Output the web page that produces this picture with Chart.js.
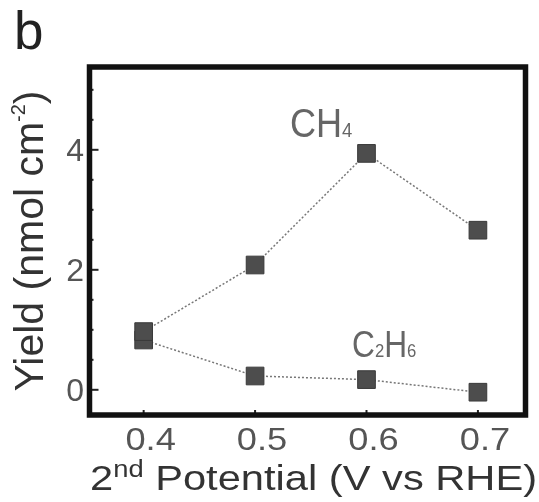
<!DOCTYPE html>
<html>
<head>
<meta charset="utf-8">
<script src="https://cdn.jsdelivr.net/npm/chart.js@4/dist/chart.umd.min.js"></script>
<style>
  html, body { margin: 0; padding: 0; background: #fff; }
  #wrap { width: 539px; height: 502px; }
</style>
</head>
<body>
<div id="wrap"><canvas id="yieldChart" width="539" height="502"></canvas></div>
<script>
// dados
const potentials = [0.4, 0.5, 0.6, 0.7];
const ch4Yield = [0.97, 2.08, 3.94, 2.66];
const c2h6Yield = [0.83, 0.23, 0.17, -0.04];
const xTickValues = [0.4, 0.5, 0.6, 0.7];
const xTickLabels = ["0.4", "0.5", "0.6", "0.7"];
const yTickValues = [0, 2, 4];
const yTickLabels = ["0", "2", "4"];

const FONT = '"Liberation Sans", Arial, sans-serif';

function toPoints(ys) {
  return potentials.map((p, i) => ({ x: p, y: ys[i] }));
}

// texto em partes (sub/sobrescritos), com escala horizontal
function drawRuns(ctx, parts, x, y, sx, align, color) {
  ctx.save();
  ctx.translate(x, y);
  ctx.scale(sx, 1);
  ctx.fillStyle = color;
  ctx.textBaseline = "alphabetic";
  ctx.textAlign = "left";
  let total = 0;
  parts.forEach(p => {
    ctx.font = p[1] + "px " + FONT;
    total += ctx.measureText(p[0]).width;
  });
  let cx = align === "center" ? -total / 2 : (align === "right" ? -total : 0);
  parts.forEach(p => {
    ctx.font = p[1] + "px " + FONT;
    ctx.fillText(p[0], cx, p[2] || 0);
    cx += ctx.measureText(p[0]).width;
  });
  ctx.restore();
}

const figurePlugin = {
  id: "figurePlugin",
  afterDraw(chart) {
    const { ctx, chartArea: a, scales: { x, y } } = chart;
    ctx.save();

    // ticks do eixo y (para dentro)
    ctx.strokeStyle = "#222";
    ctx.lineWidth = 2;
    for (let v = 0; v <= 5; v += 0.5) {
      const py = y.getPixelForValue(v);
      const len = (v % 2 === 0) ? 9 : 4;
      ctx.beginPath();
      ctx.moveTo(a.left, py);
      ctx.lineTo(a.left + len, py);
      ctx.stroke();
    }
    // ticks do eixo x
    xTickValues.forEach(v => {
      const px = x.getPixelForValue(v);
      ctx.beginPath();
      ctx.moveTo(px, a.bottom);
      ctx.lineTo(px, a.bottom - 5);
      ctx.stroke();
    });

    // moldura
    ctx.strokeStyle = "#111";
    ctx.lineWidth = 5.5;
    ctx.strokeRect(a.left, a.top, a.right - a.left, a.bottom - a.top);

    // rótulos dos ticks
    yTickValues.forEach((v, i) => {
      drawRuns(ctx, [[yTickLabels[i], 32]], 84, y.getPixelForValue(v) + 11, 1, "right", "#555");
    });
    xTickValues.forEach((v, i) => {
      drawRuns(ctx, [[xTickLabels[i], 31]], x.getPixelForValue(v) + 7, 450, 1.17, "center", "#555");
    });

    // títulos dos eixos
    drawRuns(ctx, [["2", 35], ["nd", 23, -13], [" Potential (V vs RHE)", 35]], 90, 490, 1.19, "left", "#333");

    ctx.save();
    ctx.translate(43, 241);
    ctx.rotate(-Math.PI / 2);
    drawRuns(ctx, [["Yield (nmol cm", 41], ["-2", 20, -18], [")", 41]], 0, 0, 1, "center", "#333");
    ctx.restore();

    // letra do painel
    drawRuns(ctx, [["b", 53]], 14, 49, 1, "left", "#222");

    // anotações
    drawRuns(ctx, [["CH", 41], ["4", 21, 0]], 290, 137, 0.88, "left", "#666");
    drawRuns(ctx, [["C", 36], ["2", 19, 0], ["H", 36], ["6", 19, 0]], 352, 357, 0.88, "left", "#666");

    ctx.restore();
  }
};

const lineStyle = {
  showLine: true,
  borderColor: "#777",
  borderWidth: 1.5,
  borderDash: [2, 2],
  pointStyle: "rect",
  pointRadius: 12.5,
  pointHoverRadius: 12.5,
  pointBackgroundColor: "#4d4d4d",
  pointBorderColor: "#3a3a3a",
  pointBorderWidth: 1
};

new Chart(document.getElementById("yieldChart"), {
  type: "scatter",
  data: {
    datasets: [
      Object.assign({ label: "CH4", data: toPoints(ch4Yield) }, lineStyle),
      Object.assign({ label: "C2H6", data: toPoints(c2h6Yield) }, lineStyle)
    ]
  },
  options: {
    responsive: false,
    animation: false,
    devicePixelRatio: 1,
    layout: { padding: { left: 89.5, right: 10.5, top: 67, bottom: 87 } },
    scales: {
      x: { type: "linear", min: 0.3514, max: 0.7427, display: false },
      y: { type: "linear", min: -0.42, max: 5.38, display: false }
    },
    plugins: {
      legend: { display: false },
      tooltip: { enabled: false }
    }
  },
  plugins: [figurePlugin]
});
</script>
</body>
</html>
